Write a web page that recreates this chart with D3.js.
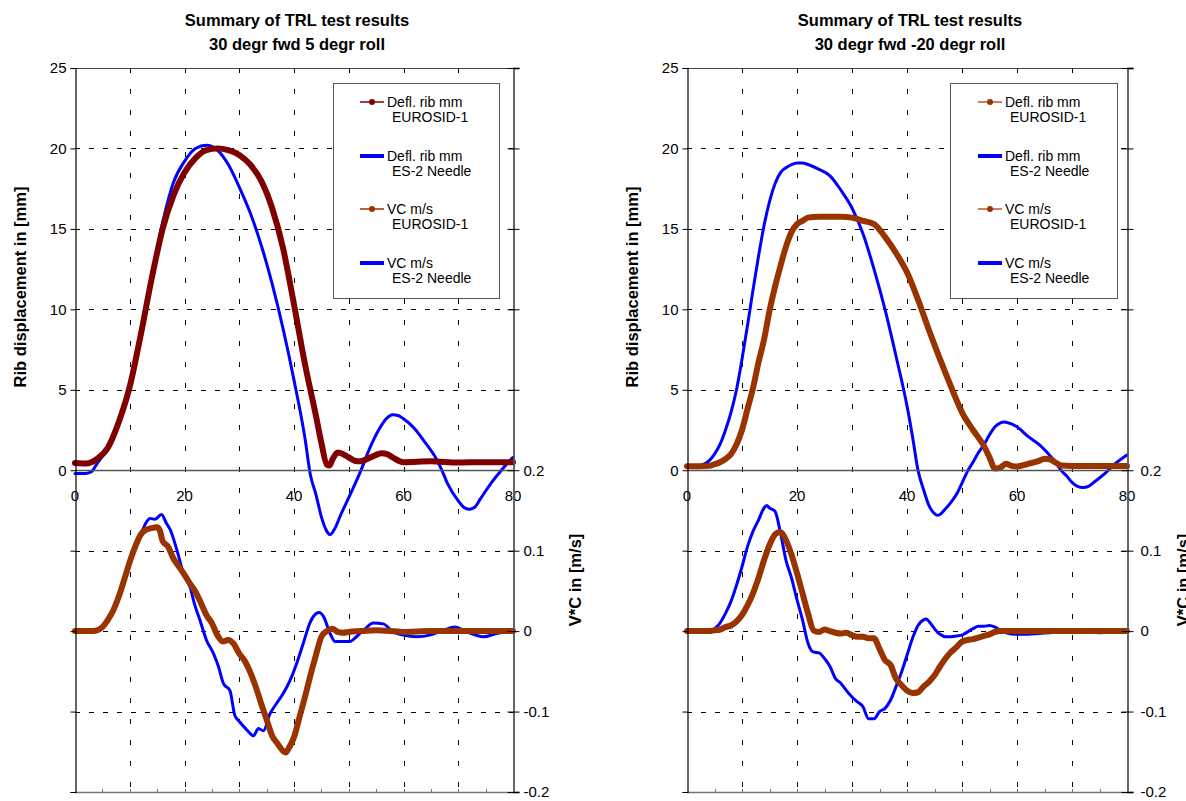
<!DOCTYPE html>
<html>
<head>
<meta charset="utf-8">
<script src="https://cdn.jsdelivr.net/npm/d3@7"></script>
<style>
  body { margin: 0; background: #ffffff; }
  svg { display: block; font-family: "Liberation Sans", Arial, sans-serif; }
</style>
</head>
<body>
<svg id="chart" width="1186" height="801"></svg>
<script>
// ---- shared axis definitions ----
const timeTicks = [0, 20, 40, 60, 80];
const timeGrid = [10, 20, 30, 40, 50, 60, 70];
const mmTicks = [-20, -15, -10, -5, 0, 5, 10, 15, 20, 25];
const vcTicks = [-0.2, -0.1, 0, 0.1, 0.2, 0.3, 0.4, 0.5, 0.6, 0.7];
const legendLabels = [
  ["Defl. rib mm", "EUROSID-1"],
  ["Defl. rib mm", "ES-2 Needle"],
  ["VC m/s", "EUROSID-1"],
  ["VC m/s", "ES-2 Needle"]
];
const yTitleMm = "Rib displacement in [mm]";
const yTitleVc = "V*C in [m/s]";

// ---- 30 degr fwd 5 degr roll: [time ms, value] ----
const roll5Title = ["Summary of TRL test results", "30 degr fwd 5 degr roll"];
const roll5DeflEuro = [[0,0.45],[2,0.42],[4,0.7],[6,1.4],[8,3.0],[10,5.2],[12,8.4],[14,11.9],[16,15.0],[18,17.1],[20,18.5],[22,19.4],[24,19.9],[26,20.0],[28,19.9],[30,19.6],[32,19.0],[34,18.0],[36,16.3],[38,13.8],[40,10.3],[42,6.6],[44,3.4],[45,1.7],[46,0.35],[46.5,0.3],[47,0.65],[48,1.1],[49,1.0],[50,0.8],[51,0.6],[52,0.55],[54,0.8],[56,1.05],[57,1.0],[58,0.8],[60,0.5],[65,0.55],[70,0.48],[75,0.5],[80,0.5]];
const roll5DeflEs2 = [[0,-0.2],[2,-0.2],[3,-0.1],[4,0.4],[6,1.4],[8,3.1],[10,5.3],[12,8.5],[14,12.0],[16,15.4],[18,17.9],[20,19.2],[22,20.0],[24,20.2],[26,19.9],[28,19.0],[30,17.6],[32,16.0],[34,14.0],[36,11.6],[38,8.8],[40,5.6],[42,2.0],[43,-0.3],[44,-1.5],[45,-2.9],[46,-3.8],[46.6,-4.0],[47.5,-3.6],[48.5,-2.8],[50,-1.7],[52,-0.2],[54,1.5],[56,2.8],[57,3.25],[58,3.45],[59,3.4],[60,3.2],[62,2.6],[64,1.7],[66,0.7],[67,0],[68,-0.8],[70,-1.9],[71,-2.3],[72,-2.42],[73,-2.3],[74,-1.8],[76,-0.8],[78,0.05],[80,0.8]];
const roll5VcEuro = [[0,0],[1,0],[2,0],[3,0],[4,0.001],[5,0.005],[6,0.014],[7,0.026],[8,0.043],[9,0.064],[10,0.086],[11,0.105],[12,0.12],[13,0.126],[14,0.128],[15,0.129],[15.5,0.125],[16,0.112],[17,0.105],[18,0.09],[19,0.08],[20,0.07],[21,0.059],[22,0.049],[23,0.035],[24,0.02],[25,0.01],[26,-0.005],[27,-0.013],[28,-0.011],[29,-0.016],[30,-0.028],[31,-0.037],[32,-0.051],[33,-0.069],[34,-0.09],[35,-0.11],[36,-0.13],[37,-0.14],[38,-0.149],[38.5,-0.151],[39,-0.146],[40,-0.132],[41,-0.107],[42,-0.082],[43,-0.055],[44,-0.03],[45,-0.007],[46,0],[47,0.003],[48,-0.001],[49,-0.002],[50,-0.001],[52,0],[55,0.001],[60,-0.001],[65,0],[70,0],[75,0],[80,0]];
const roll5VcEs2 = [[0,0],[4,0],[5,0.004],[6,0.012],[7,0.024],[8,0.041],[9,0.062],[10,0.085],[11,0.104],[12,0.12],[13,0.135],[13.7,0.14],[14.6,0.139],[15.8,0.145],[16.7,0.134],[17.4,0.126],[18.6,0.101],[19.8,0.072],[21,0.055],[21.9,0.032],[22.8,0.014],[24,-0.011],[25.3,-0.028],[26.2,-0.044],[27.1,-0.065],[28.3,-0.074],[29.2,-0.105],[30.1,-0.113],[31.4,-0.123],[32.6,-0.13],[33.5,-0.121],[34.4,-0.124],[35.6,-0.103],[36.8,-0.09],[38,-0.078],[39.3,-0.061],[40.5,-0.04],[41.7,-0.015],[42.9,0.01],[44.1,0.022],[44.6,0.023],[45.4,0.018],[46.6,-0.003],[47.5,-0.013],[49,-0.013],[50.2,-0.013],[51.4,-0.007],[53,0.003],[54.5,0.01],[56.3,0.009],[58.1,-0.001],[60,-0.005],[62.4,-0.007],[64.8,-0.005],[67.3,0.001],[69.4,0.005],[71.5,-0.001],[74.6,-0.007],[77,-0.003],[80,0]];

// ---- 30 degr fwd -20 degr roll: [time ms, value] ----
const roll20Title = ["Summary of TRL test results", "30 degr fwd -20 degr roll"];
const roll20DeflEuro = [[0,0.25],[2,0.25],[4,0.27],[5,0.37],[6,0.5],[7,0.7],[8,1.0],[9,1.6],[10,2.5],[11,3.8],[12,5.1],[13,6.7],[14,8.1],[15,9.9],[16,11.4],[17,12.7],[18,13.9],[19,14.8],[20,15.3],[21,15.5],[22,15.7],[24,15.75],[28,15.75],[30,15.7],[32,15.5],[34,15.3],[36,14.5],[38,13.5],[40,12.3],[42,10.6],[44,8.7],[46,6.9],[48,5.2],[50,3.6],[52,2.5],[54,1.5],[55,0.8],[56,0.1],[57,0.17],[58,0.4],[59,0.27],[60,0.23],[62,0.4],[64,0.58],[65,0.72],[66,0.68],[67,0.48],[68,0.3],[70,0.27],[75,0.27],[80,0.27]];
const roll20DeflEs2 = [[0,0.23],[2,0.25],[3,0.37],[4,0.58],[5,1.0],[6,1.6],[7,2.5],[8,3.6],[9,5.0],[10,6.9],[11,9.0],[12,11.2],[13,13.3],[14,15.2],[15,16.7],[16,17.8],[17,18.5],[18,18.8],[19,19.0],[20,19.1],[21,19.1],[22,19.0],[24,18.7],[26,18.3],[28,17.4],[30,16.3],[32,14.7],[34,12.5],[36,10.0],[38,7.1],[40,4.0],[41,2.1],[42,0],[43,-1.2],[44,-2.2],[45,-2.7],[45.5,-2.8],[46,-2.75],[47,-2.4],[48,-2.0],[49,-1.5],[50,-0.8],[51,-0.07],[52,0.5],[53,1.1],[54,1.6],[55,2.2],[56,2.7],[57,2.95],[57.6,3.0],[58,2.98],[60,2.7],[62,2.1],[64,1.6],[66,0.9],[67,0.5],[68,0],[69,-0.35],[70,-0.75],[71,-1.0],[72,-1.07],[73,-1.0],[74,-0.75],[76,-0.2],[78,0.45],[80,0.95]];
const roll20VcEuro = [[0,0],[4,0],[5,0.001],[6,0.002],[7,0.005],[8,0.007],[9,0.012],[10,0.02],[11,0.032],[12,0.047],[13,0.066],[14,0.088],[15,0.107],[16,0.12],[16.8,0.123],[17,0.123],[18,0.113],[19,0.095],[20,0.072],[21,0.047],[22,0.022],[23,0.001],[24,-0.001],[25,0.002],[26,0],[27,-0.002],[28,-0.003],[29,-0.002],[30,-0.005],[31,-0.007],[32,-0.007],[33,-0.009],[34,-0.009],[35,-0.022],[36,-0.036],[37,-0.042],[38,-0.059],[39,-0.067],[40,-0.074],[41,-0.077],[42,-0.076],[43,-0.069],[44,-0.063],[45,-0.055],[46,-0.044],[47,-0.034],[48,-0.026],[49,-0.02],[50,-0.013],[51,-0.011],[52,-0.01],[53,-0.008],[54,-0.006],[55,-0.004],[56,-0.001],[57,0],[65,0],[70,0],[80,0]];
const roll20VcEs2 = [[0,0],[4,0],[5,0.003],[6,0.01],[7,0.022],[8,0.037],[9,0.057],[10,0.08],[11,0.105],[12,0.124],[13,0.138],[14,0.153],[14.5,0.156],[15,0.153],[16,0.149],[17,0.122],[18,0.088],[19,0.066],[20,0.039],[21,0.014],[22,-0.015],[23,-0.026],[24,-0.027],[25,-0.034],[26,-0.044],[27,-0.059],[28,-0.065],[29,-0.074],[30,-0.082],[31,-0.088],[32,-0.094],[33,-0.109],[34,-0.109],[35,-0.1],[36,-0.096],[37,-0.086],[38,-0.069],[39,-0.051],[40,-0.03],[41,-0.009],[42,0.007],[43,0.014],[43.5,0.015],[44,0.012],[45,0.003],[46,-0.004],[47,-0.007],[48,-0.007],[49,-0.006],[50,-0.005],[51,-0.001],[52,0.003],[53,0.006],[54,0.006],[55,0.007],[56,0.005],[57,0.001],[58,-0.002],[60,-0.004],[62,-0.004],[64,-0.003],[66,-0.002],[68,-0.001],[70,0],[72,-0.001],[75,-0.002],[80,0]];

const svg = d3.select("#chart");

function drawPanel(p) {
  const top = 68, bottom = 792;
  const x = d3.scaleLinear().domain([0, 80]).range([p.left, p.right]);
  const yMm = d3.scaleLinear().domain([-20, 25]).range([bottom, top]);
  const yVc = d3.scaleLinear().domain([-0.2, 0.7]).range([bottom, top]);
  const g = svg.append("g");

  // chart title (two lines)
  const cx = (p.left + p.right) / 2 + 3;
  g.append("text").attr("x", cx).attr("y", 26).attr("text-anchor", "middle")
    .attr("font-size", 16.5).attr("font-weight", "bold").attr("fill", "#000").text(p.title[0]);
  g.append("text").attr("x", cx).attr("y", 50).attr("text-anchor", "middle")
    .attr("font-size", 16.5).attr("font-weight", "bold").attr("fill", "#000").text(p.title[1]);

  // dashed grid
  g.append("g").selectAll("line").data(mmTicks.filter(v => v !== 25 && v !== 0 && v !== -20))
    .join("line")
    .attr("x1", p.left).attr("x2", p.right)
    .attr("y1", d => Math.round(yMm(d)) + 0.5).attr("y2", d => Math.round(yMm(d)) + 0.5)
    .attr("stroke", "#000").attr("stroke-width", 1).attr("stroke-dasharray", "5,9");
  g.append("g").selectAll("line").data(timeGrid)
    .join("line")
    .attr("x1", d => Math.round(x(d)) + 0.5).attr("x2", d => Math.round(x(d)) + 0.5)
    .attr("y1", top).attr("y2", bottom)
    .attr("stroke", "#000").attr("stroke-width", 1).attr("stroke-dasharray", "5,16");

  // frame lines: top edge and bottom edge
  g.append("line").attr("x1", p.left).attr("x2", p.right).attr("y1", top + 0.5).attr("y2", top + 0.5)
    .attr("stroke", "#444").attr("stroke-width", 1.2);
  g.append("line").attr("x1", p.left).attr("x2", p.right).attr("y1", bottom + 0.5).attr("y2", bottom + 0.5)
    .attr("stroke", "#777").attr("stroke-width", 1.5);
  g.append("g").selectAll("line").data(d3.range(5, 80, 5)).join("line")
    .attr("x1", d => Math.round(x(d)) + 0.5).attr("x2", d => Math.round(x(d)) + 0.5)
    .attr("y1", bottom - 3).attr("y2", bottom)
    .attr("stroke", "#777").attr("stroke-width", 1);

  // legend box
  const lg = g.append("g").attr("transform", `translate(${p.legendX},83)`);
  lg.append("rect").attr("x", 0.5).attr("y", 0.5).attr("width", p.legendW).attr("height", 215)
    .attr("fill", "#fff").attr("stroke", "#555").attr("stroke-width", 1);
  const rowY = [19, 73, 126, 180];
  legendLabels.forEach((lab, i) => {
    const s = p.series[i];
    const row = lg.append("g").attr("transform", `translate(0,${rowY[i]})`);
    if (s.marker) {
      row.append("line").attr("x1", p.sampleX).attr("x2", p.sampleX + 24).attr("y1", 0).attr("y2", 0)
        .attr("stroke", s.legendColor).attr("stroke-width", 1.5);
      row.append("circle").attr("cx", p.sampleX + 12).attr("cy", 0).attr("r", 3).attr("fill", s.color);
    } else {
      row.append("line").attr("x1", p.sampleX).attr("x2", p.sampleX + 24).attr("y1", 0).attr("y2", 0)
        .attr("stroke", s.color).attr("stroke-width", 4);
    }
    row.append("text").attr("x", p.sampleX + 27).attr("y", 5).attr("font-size", 14).attr("fill", "#000").text(lab[0]);
    row.append("text").attr("x", p.sampleX + 32).attr("y", 20).attr("font-size", 14).attr("fill", "#000").text(lab[1]);
  });

  // curves
  const lineMm = d3.line().x(d => x(d[0])).y(d => yMm(d[1])).curve(d3.curveMonotoneX);
  const lineVc = d3.line().x(d => x(d[0])).y(d => yVc(d[1])).curve(d3.curveMonotoneX);
  const drawOrder = [1, 0, 3, 2];
  drawOrder.forEach(i => {
    const s = p.series[i];
    g.append("path").datum(s.data)
      .attr("d", s.axis === "mm" ? lineMm : lineVc)
      .attr("fill", "none").attr("stroke", s.color).attr("stroke-width", s.width)
      .attr("stroke-linejoin", "round").attr("stroke-linecap", "round");
  });

  // x axis through zero of the displacement scale
  const xAxisY = Math.round(yMm(0)) + 0.5;
  g.append("line").attr("x1", p.left).attr("x2", p.right).attr("y1", xAxisY).attr("y2", xAxisY)
    .attr("stroke", "#555").attr("stroke-width", 1.5);
  g.append("g").selectAll("text").data(timeTicks).join("text")
    .attr("x", d => x(d)).attr("y", xAxisY + 30).attr("text-anchor", "middle")
    .attr("font-size", 15).attr("fill", "#000").text(d => d);

  // left axis (displacement) - labels only on the upper half
  const leftAxis = d3.axisLeft(yMm).tickValues(mmTicks).tickSize(5)
    .tickFormat(d => d >= 0 ? d : "");
  const la = g.append("g").attr("transform", `translate(${p.left + 0.5},0)`).call(leftAxis);
  la.select(".domain").attr("stroke", "#000").attr("stroke-width", 1.2);
  la.selectAll(".tick line").attr("stroke", "#000");
  la.selectAll(".tick text").attr("font-size", 15).attr("font-family", "Liberation Sans, Arial, sans-serif")
    .attr("fill", "#000").attr("x", -9);

  // right axis (V*C) - labels only on the lower half
  const rightAxis = d3.axisRight(yVc).tickValues(vcTicks).tickSize(6)
    .tickFormat(d => d <= 0.2001 ? (Math.abs(d) < 1e-9 ? "0" : d3.format(".1f")(d).replace("\u2212", "-")) : "");
  const ra = g.append("g").attr("transform", `translate(${p.right + 0.5},0)`).call(rightAxis);
  ra.select(".domain").attr("stroke", "#555").attr("stroke-width", 1.8);
  ra.selectAll(".tick line").attr("stroke", "#000").attr("x1", -6);
  ra.selectAll(".tick text").attr("font-size", 15).attr("font-family", "Liberation Sans, Arial, sans-serif")
    .attr("fill", "#000").attr("x", p.rightLabelX);

  // axis titles
  g.append("text").attr("transform", `translate(${p.left - 49},287) rotate(-90)`)
    .attr("text-anchor", "middle").attr("font-size", 16.5).attr("font-weight", "bold").attr("fill", "#000")
    .text(yTitleMm);
  g.append("text").attr("transform", `translate(${p.right + p.vcTitleDx},580) rotate(-90)`)
    .attr("text-anchor", "middle").attr("font-size", 16.5).attr("font-weight", "bold").attr("fill", "#000")
    .text(yTitleVc);
}

drawPanel({
  left: 75, right: 513, title: roll5Title,
  legendX: 333, legendW: 166, sampleX: 27, rightLabelX: 10, vcTitleDx: 68,
  series: [
    { data: roll5DeflEuro, axis: "mm", color: "#800000", legendColor: "#800000", width: 6, marker: true },
    { data: roll5DeflEs2, axis: "mm", color: "#0000ff", width: 3, marker: false },
    { data: roll5VcEuro, axis: "vc", color: "#993300", legendColor: "#993300", width: 6, marker: true },
    { data: roll5VcEs2, axis: "vc", color: "#0000ff", width: 3, marker: false }
  ]
});

drawPanel({
  left: 687, right: 1127, title: roll20Title,
  legendX: 950, legendW: 167, sampleX: 28, rightLabelX: 13, vcTitleDx: 62,
  series: [
    { data: roll20DeflEuro, axis: "mm", color: "#993300", legendColor: "#b4563a", width: 6, marker: true },
    { data: roll20DeflEs2, axis: "mm", color: "#0000ff", width: 3, marker: false },
    { data: roll20VcEuro, axis: "vc", color: "#993300", legendColor: "#b4563a", width: 6, marker: true },
    { data: roll20VcEs2, axis: "vc", color: "#0000ff", width: 3, marker: false }
  ]
});
</script>
</body>
</html>
